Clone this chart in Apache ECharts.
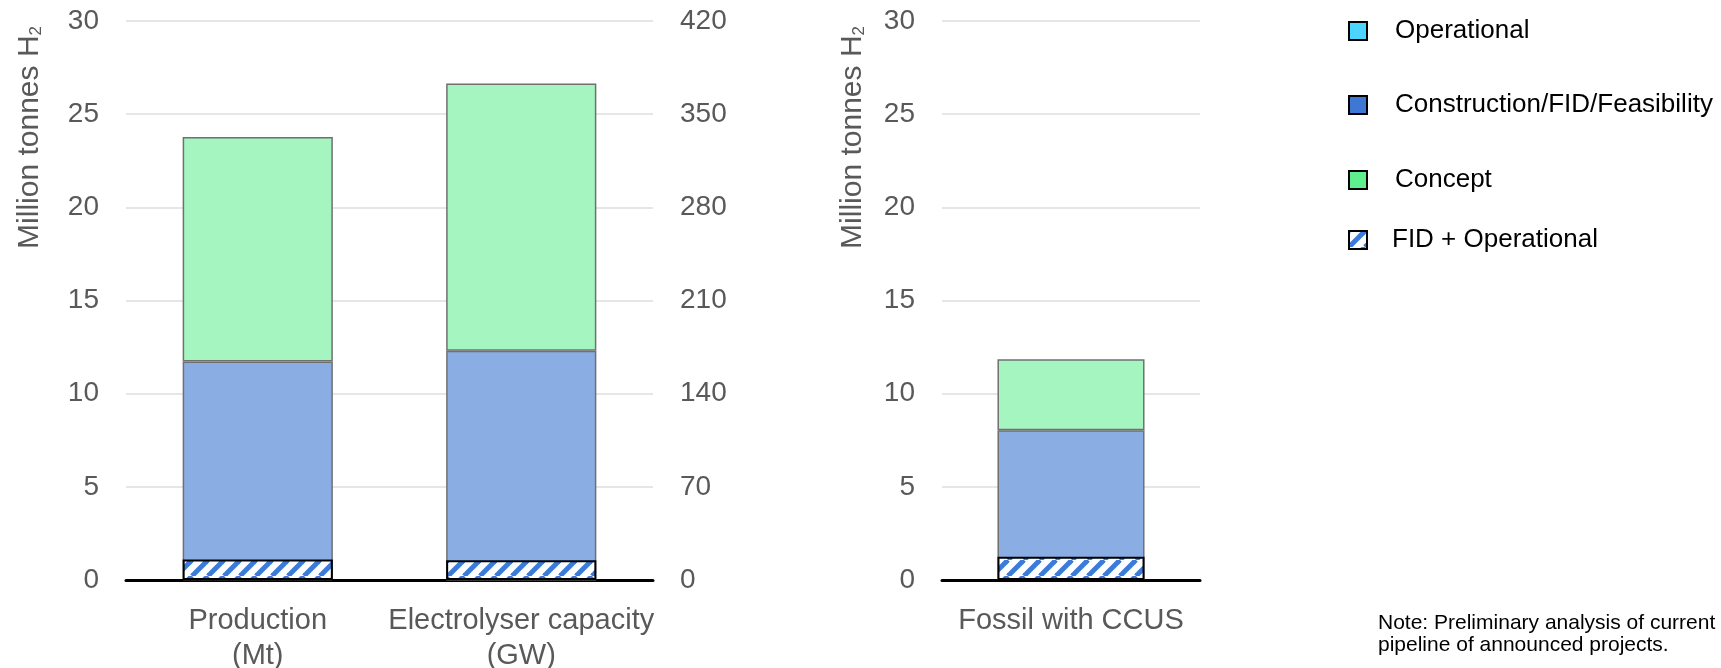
<!DOCTYPE html>
<html>
<head>
<meta charset="utf-8">
<script src="https://cdn.jsdelivr.net/npm/echarts@6/dist/echarts.min.js"></script>
<style>
  html, body { margin: 0; padding: 0; background: #fff; }
  #chart { width: 1721px; height: 668px; }
</style>
</head>
<body>
<div id="chart"></div>
<script>
// Categories of the two panels
const mainCategories = ['Production\n(Mt)', 'Electrolyser capacity\n(GW)'];
const ccusCategories = ['Fossil with CCUS'];
const layerNames = ['Operational', 'Construction/FID/Feasibility', 'Concept', 'FID + Operational'];

// Values per column: [Production (Mt), Electrolyser capacity (GW), Fossil with CCUS (Mt)]
const operational    = [0.05, 0.3, 0.7];
const construction   = [11.67, 172.0, 7.33];
const concept        = [12.06, 200.7, 3.82];
const fidOperational = [1.10, 14.9, 1.25];

// Axis ticks
const mtTicks = [0, 5, 10, 15, 20, 25, 30];
const gwTicks = [0, 70, 140, 210, 280, 350, 420];

const FONT = '"Liberation Sans", Arial, sans-serif';
const GREY = '#595959';

// Diagonal blue-on-white stripes for the FID + Operational bars
function stripePattern() {
  const c = document.createElement('canvas');
  c.width = 16; c.height = 16;
  const g = c.getContext('2d');
  g.fillStyle = '#ffffff';
  g.fillRect(0, 0, 16, 16);
  g.strokeStyle = '#3a7bdc';
  g.lineWidth = 5;
  for (let k = -1; k <= 1; k++) {
    g.beginPath();
    g.moveTo(k * 16, 16);
    g.lineTo(k * 16 + 16, 0);
    g.stroke();
  }
  return c;
}
const stripes = { image: stripePattern(), repeat: 'repeat' };

const layerValues = [operational, construction, concept, fidOperational];
const barFills = ['#4dd4ff', '#8aaee3', '#a5f5c0', stripes];
const legendFills = ['#4dd4ff', '#3f78d4', '#5ef08e', null];
const legendTops = [31, 105, 180, 240];

// Column placements: axis indices, stack group, slot in its category axis
const columns = [
  { x: 0, y: 0, stack: 'mt', slot: 0, len: 2 },
  { x: 0, y: 1, stack: 'gw', slot: 1, len: 2 },
  { x: 1, y: 2, stack: 'ccus', slot: 0, len: 1 }
];

const series = [];
layerNames.forEach((name, li) => {
  columns.forEach((col, ci) => {
    const data = new Array(col.len).fill('-');
    data[col.slot] = layerValues[li][ci];
    const hatch = li === 3;
    series.push({
      type: 'bar',
      name: name,
      xAxisIndex: col.x,
      yAxisIndex: col.y,
      stack: hatch ? col.stack + '-fid' : col.stack,
      data: data,
      barWidth: '57%',
      barGap: '-100%',
      itemStyle: {
        color: barFills[li],
        borderColor: hatch ? '#000000' : '#707070',
        borderWidth: hatch ? 2 : 1.5
      },
      emphasis: { disabled: true },
      animation: false
    });
  });
});

const valueAxisCommon = {
  type: 'value',
  axisLine: { show: false },
  axisTick: { show: false },
  axisLabel: { fontSize: 28, color: GREY, margin: 27, fontFamily: FONT }
};

const catAxisCommon = {
  type: 'category',
  axisLine: { show: true, lineStyle: { color: '#000000', width: 3 } },
  axisTick: { show: false },
  axisLabel: { fontSize: 29, color: GREY, lineHeight: 35, margin: 23, interval: 0, fontFamily: FONT }
};

function axisTitle(x) {
  return {
    type: 'text', x: x, y: 26, rotation: Math.PI / 2,
    style: {
      text: 'Million tonnes H{sub|2}', fill: GREY, fontSize: 30, fontFamily: FONT,
      align: 'right', verticalAlign: 'middle',
      rich: { sub: { fontSize: 17, fontFamily: FONT, fill: GREY, verticalAlign: 'bottom' } }
    }
  };
}

const option = {
  backgroundColor: '#ffffff',
  textStyle: { fontFamily: FONT },
  animation: false,
  grid: [
    { left: 126, width: 527, top: 21, height: 559, containLabel: false, outerBoundsMode: 'none' },
    { left: 942, width: 258, top: 21, height: 559, containLabel: false, outerBoundsMode: 'none' }
  ],
  xAxis: [
    Object.assign({}, catAxisCommon, { gridIndex: 0, data: mainCategories }),
    Object.assign({}, catAxisCommon, { gridIndex: 1, data: ccusCategories })
  ],
  yAxis: [
    Object.assign({}, valueAxisCommon, {
      gridIndex: 0, min: mtTicks[0], max: mtTicks[mtTicks.length - 1], interval: mtTicks[1] - mtTicks[0],
      splitLine: { show: true, lineStyle: { color: '#e6e6e6', width: 2 } }
    }),
    Object.assign({}, valueAxisCommon, {
      gridIndex: 0, position: 'right',
      min: gwTicks[0], max: gwTicks[gwTicks.length - 1], interval: gwTicks[1] - gwTicks[0],
      splitLine: { show: false }
    }),
    Object.assign({}, valueAxisCommon, {
      gridIndex: 1, min: mtTicks[0], max: mtTicks[mtTicks.length - 1], interval: mtTicks[1] - mtTicks[0],
      splitLine: { show: true, lineStyle: { color: '#e6e6e6', width: 2 } }
    })
  ],
  legend: layerNames.map((name, i) => {
    const itemStyle = { borderColor: '#000000', borderWidth: 2 };
    if (legendFills[i]) itemStyle.color = legendFills[i];
    return {
      data: [{ name: name, itemStyle: itemStyle }],
      left: 1343,
      top: legendTops[i] - 20,
      icon: 'rect',
      itemWidth: 18,
      itemHeight: 18,
      selectedMode: false,
      textStyle: {
        fontSize: 26, color: '#000000', fontFamily: FONT, lineHeight: 30,
        padding: [0, 0, 0, i === 3 ? 20 : 23]
      }
    };
  }),
  graphic: [
    axisTitle(30),
    axisTitle(853),
    {
      type: 'text', x: 1378, y: 612,
      style: {
        text: 'Note: Preliminary analysis of current\npipeline of announced projects.',
        fill: '#000000', fontSize: 21, lineHeight: 22, fontFamily: FONT,
        align: 'left', verticalAlign: 'top'
      }
    }
  ],
  series: series
};

const chart = echarts.init(document.getElementById('chart'), null, { renderer: 'canvas' });
chart.setOption(option);
</script>
</body>
</html>
